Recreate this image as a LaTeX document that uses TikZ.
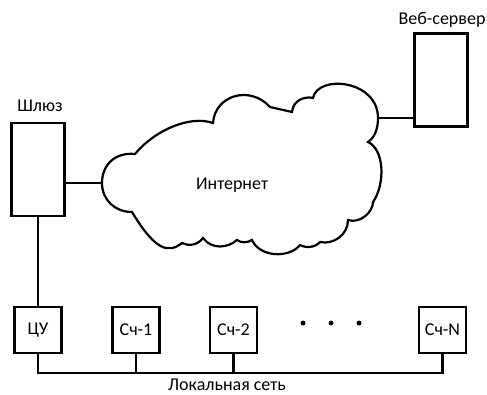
\documentclass[tikz,border=0pt]{standalone}
\usepackage{fontspec}
\setmainfont{Carlito}
\usepackage{tikz}

\begin{document}
\begin{tikzpicture}[x=1pt, y=-1pt, line width=2.2pt,
  every node/.style={font=\fontsize{18}{21}\selectfont},
  box/.style={draw, rectangle, inner sep=0pt, minimum width=47pt, minimum height=46pt},
  tall/.style={draw, rectangle, inner sep=0pt, minimum width=53pt, minimum height=93pt}]
  \useasboundingbox (0,0) rectangle (487,395);
  % servers
  \node [tall] (srv) at (441,80) {};
  \node [tall] (gw) at (38,169.5) {};
  \node (srvlbl) at (442,20) {Веб-сервер};
  \node (gwlbl) at (40,106) {Шлюз};
  % cloud
  \draw (102,183) coordinate (cl)
    .. controls (102,165) and (115,152) .. (135,154)
    .. controls (155,130) and (190,115) .. (213,123)
    .. controls (215,95) and (250,85) .. (270,107)
    -- (292,112)
    .. controls (293,100) and (305,96) .. (313,98)
    .. controls (318,74) and (378,80) .. (378,118) coordinate (cr)
    .. controls (378,130) and (374,138) .. (368,142)
    .. controls (385,150) and (385,185) .. (373,202)
    .. controls (373,212) and (360,224) .. (348,220)
    .. controls (348,235) and (333,245) .. (320,242)
    .. controls (315,248) and (305,248) .. (300,245)
    .. controls (290,258) and (260,258) .. (252,240)
    .. controls (247,243) and (241,243) .. (237,240)
    .. controls (228,248) and (212,250) .. (203,238)
    .. controls (197,246) and (188,246) .. (182,243)
    .. controls (168,254) and (155,250) .. (132,212)
    .. controls (115,212) and (102,200) .. cycle;
  \node (inet) at (232,185) {Интернет};
  % local network
  \node [box] (cu) at (38,330) {ЦУ};
  \node [box] (s1) at (136,330) {Сч-1};
  \node [box] (s2) at (233.5,330) {Сч-2};
  \node [box] (sn) at (442.5,330) {Сч-N};
  \foreach \x in {303,331,359}
    \fill (\x,323) circle (2.5pt);
  \node [inner sep=1pt] (lan) at (227,385) {Локальная сеть};
  % links
  \draw (gw.east |- cl) -- (cl);
  \draw (cr) -- (srv.west |- cr);
  \draw (gw.south) -- (cu.north);
  \draw (cu.south) -- ++(0,19) coordinate (bus) -| (sn.south);
  \draw (s1.south) -- (s1.south |- bus);
  \draw (s2.south) -- (s2.south |- bus);
\end{tikzpicture}
\end{document}
